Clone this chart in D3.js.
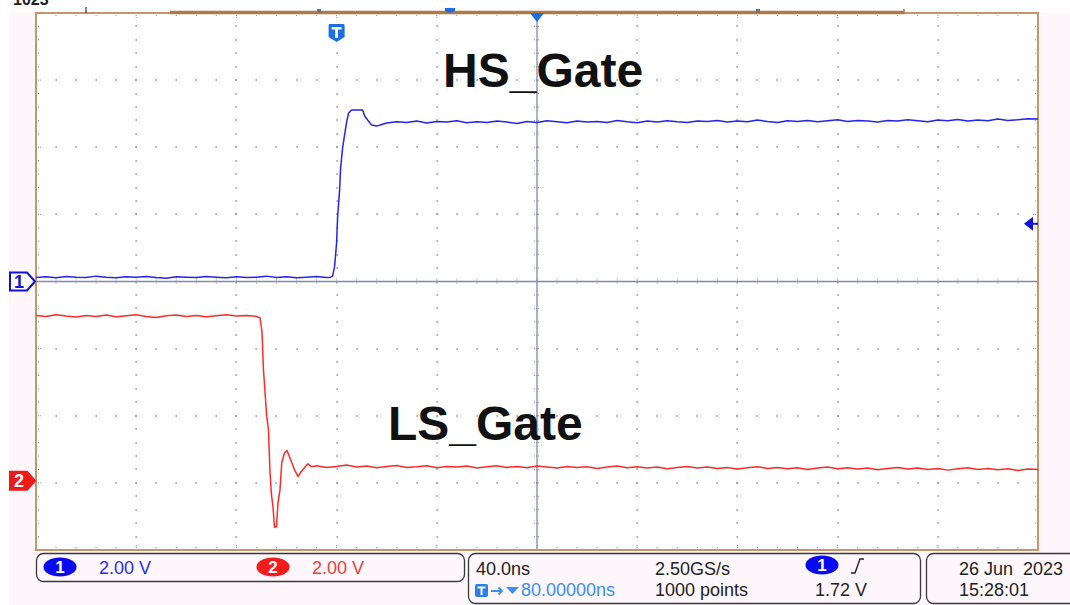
<!DOCTYPE html>
<html>
<head>
<meta charset="utf-8">
<script src="https://cdn.jsdelivr.net/npm/d3@7"></script>
<style>
  body { margin: 0; background: #fff; }
  svg { display: block; }
  text { font-family: "Liberation Sans", Arial, sans-serif; }
</style>
</head>
<body>
<script>
// ---- scope settings ----
var timeWindow = [-120, 280];      // ns, trigger at 0
var voltsPerDiv = 2.0;
var ch1Position = 0;               // divisions
var ch2Position = -2.97;
var triggerLevel = 1.72;           // V on channel 1

// channel 1 (HS_Gate) samples [ns, V]
var ch1Trace = [
  [-120,0.12],[-116,0.14],[-112,0.11],[-108,0.15],[-104,0.13],[-100,0.12],[-96,0.16],[-92,0.13],
  [-88,0.11],[-84,0.14],[-80,0.13],[-76,0.15],[-72,0.12],[-68,0.10],[-64,0.14],[-60,0.13],
  [-56,0.12],[-52,0.15],[-48,0.13],[-44,0.11],[-40,0.14],[-36,0.12],[-32,0.13],[-28,0.16],
  [-24,0.12],[-20,0.14],[-16,0.11],[-12,0.13],[-8,0.15],[-4,0.12],
  [-2.4,0.13],[-1.6,0.16],[-0.8,0.45],[0,1.15],[0.4,1.92],[1.2,2.73],[1.6,3.38],[2.4,3.98],
  [3.2,4.37],[4.0,4.75],[4.8,5.02],[6.0,5.11],[10.4,5.11],[11.2,4.93],[12.4,4.81],[14,4.66],
  [16,4.63],[18,4.68],[20,4.72],
  [24,4.76],[28,4.74],[32,4.78],[36,4.72],[40,4.77],[44,4.75],[48,4.79],[52,4.73],[56,4.76],
  [60,4.74],[64,4.78],[68,4.75],[72,4.71],[76,4.77],[80,4.74],[84,4.79],[88,4.76],[92,4.73],
  [96,4.78],[100,4.75],[104,4.77],[108,4.74],[112,4.80],[116,4.76],[120,4.73],[124,4.78],
  [128,4.75],[132,4.79],[136,4.76],[140,4.74],[144,4.78],[148,4.77],[152,4.80],[156,4.75],
  [160,4.78],[164,4.76],[168,4.81],[172,4.77],[176,4.74],[180,4.79],[184,4.77],[188,4.80],
  [192,4.76],[196,4.79],[200,4.82],[204,4.77],[208,4.80],[212,4.78],[216,4.75],[220,4.80],
  [224,4.78],[228,4.82],[232,4.79],[236,4.76],[240,4.81],[244,4.79],[248,4.83],[252,4.78],
  [256,4.81],[260,4.79],[264,4.84],[268,4.80],[272,4.82],[276,4.85],[280,4.84]
];

// channel 2 (LS_Gate) samples [ns, V]
var ch2Trace = [
  [-120,4.93],[-116,4.90],[-112,4.95],[-108,4.91],[-104,4.88],[-100,4.93],[-96,4.90],[-92,4.94],
  [-88,4.89],[-84,4.92],[-80,4.95],[-76,4.90],[-72,4.87],[-68,4.92],[-64,4.94],[-60,4.90],
  [-56,4.93],[-52,4.89],[-48,4.92],[-44,4.95],[-40,4.91],[-36,4.93],[-32,4.90],
  [-30.6,4.86],[-29.8,4.45],[-29.2,3.31],[-28.5,2.56],[-27.9,1.92],[-27.2,1.52],[-26.6,0.28],
  [-26.0,-0.42],[-25.4,-0.77],[-24.8,-1.38],[-24.0,-1.36],[-23.4,-0.66],[-22.6,-0.27],
  [-21.9,0.54],[-20.8,0.83],[-19.8,0.90],[-18.8,0.72],[-16.8,0.33],[-15.4,0.13],[-14.1,0.28],
  [-11.5,0.51],[-10,0.42],
  [-8,0.45],[-4,0.40],[0,0.43],[4,0.47],[8,0.41],[12,0.44],[16,0.39],[20,0.43],[24,0.46],
  [28,0.40],[32,0.42],[36,0.45],[40,0.39],[44,0.43],[48,0.41],[52,0.44],[56,0.38],[60,0.42],
  [64,0.45],[68,0.40],[72,0.43],[76,0.39],[80,0.44],[84,0.41],[88,0.38],[92,0.43],[96,0.40],
  [100,0.42],[104,0.37],[108,0.41],[112,0.44],[116,0.39],[120,0.42],[124,0.38],[128,0.41],
  [132,0.36],[136,0.40],[140,0.43],[144,0.38],[148,0.41],[152,0.37],[156,0.40],[160,0.35],
  [164,0.39],[168,0.42],[172,0.37],[176,0.40],[180,0.36],[184,0.39],[188,0.34],[192,0.38],
  [196,0.41],[200,0.36],[204,0.39],[208,0.35],[212,0.38],[216,0.33],[220,0.37],[224,0.40],
  [228,0.35],[232,0.38],[236,0.34],[240,0.37],[244,0.32],[248,0.36],[252,0.39],[256,0.34],
  [260,0.37],[264,0.33],[268,0.36],[272,0.31],[276,0.35],[280,0.34]
];

var traceLabels = ["HS_Gate", "LS_Gate"];
var channelScales = ["2.00 V", "2.00 V"];
var timebaseText = ["40.0ns", "80.00000ns", "2.50GS/s", "1000 points", "1.72 V"];
var dateText = ["26 Jun  2023", "15:28:01"];

var W = 1070, H = 605;
var plot = {left: 36, right: 1038, top: 13, bottom: 550};
var divX = 10, divY = 8, minor = 5;

var svg = d3.select("body").append("svg").attr("width", W).attr("height", H);

var x = d3.scaleLinear().domain(timeWindow).range([plot.left, plot.right]);
var yDiv = d3.scaleLinear().domain([-divY / 2, divY / 2]).range([plot.bottom, plot.top]);
function y1(v) { return yDiv(v / voltsPerDiv + ch1Position); }
function y2(v) { return yDiv(v / voltsPerDiv + ch2Position); }

var gridColor = "#8c93b8", borderColor = "#c4976a", blue = "#2424f0", red = "#ff2a2a";

// background
svg.append("rect").attr("x", 9).attr("y", plot.top).attr("width", W - 9).attr("height", H - plot.top)
    .attr("fill", "#fdf6fb");
svg.append("rect").attr("x", plot.left).attr("y", plot.top)
    .attr("width", plot.right - plot.left).attr("height", plot.bottom - plot.top).attr("fill", "#fff");

// record length readout, mostly scrolled off the top of the capture
svg.append("text").attr("x", 13).attr("y", 5).attr("font-size", 16).attr("font-weight", "bold")
    .attr("fill", "#222").text("1023");

var gx = d3.scaleLinear().domain([0, divX]).range([plot.left, plot.right]);
var gy = d3.scaleLinear().domain([0, divY]).range([plot.top, plot.bottom]);
var grid = svg.append("g");

// dotted graticule
var dots = [];
d3.range(1, divX).forEach(function(i) {
    if (i === divX / 2) return;
    d3.range(1, divY * minor).forEach(function(k) { dots.push([gx(i), gy(k / minor)]); });
});
d3.range(1, divY).forEach(function(j) {
    if (j === divY / 2) return;
    d3.range(1, divX * minor).forEach(function(k) { dots.push([gx(k / minor), gy(j)]); });
});
grid.selectAll("rect.dot").data(dots).enter().append("rect")
    .attr("class", "dot")
    .attr("x", function(d) { return Math.round(d[0]) - 0.5; })
    .attr("y", function(d) { return Math.round(d[1]) - 1; })
    .attr("width", 1.2).attr("height", 2)
    .attr("fill", gridColor);

// center cross
grid.append("line").attr("x1", gx(divX / 2)).attr("x2", gx(divX / 2))
    .attr("y1", plot.top).attr("y2", plot.bottom).attr("stroke", "#7f89ad").attr("stroke-width", 1.3);
grid.append("line").attr("y1", gy(divY / 2)).attr("y2", gy(divY / 2))
    .attr("x1", plot.left).attr("x2", plot.right).attr("stroke", "#7f89ad").attr("stroke-width", 1.3);

var ticks = [];
d3.range(1, divX * minor).forEach(function(k) {
    var px = gx(k / minor), len = (k % minor === 0) ? 6 : 3;
    ticks.push([px, plot.top, px, plot.top + len]);
    ticks.push([px, plot.bottom, px, plot.bottom - len]);
    ticks.push([px, gy(divY / 2) - 3, px, gy(divY / 2) + 3]);
});
d3.range(1, divY * minor).forEach(function(k) {
    var py = gy(k / minor), len = (k % minor === 0) ? 6 : 3;
    ticks.push([plot.left, py, plot.left + len, py]);
    ticks.push([plot.right, py, plot.right - len, py]);
    ticks.push([gx(divX / 2) - 3, py, gx(divX / 2) + 3, py]);
});
grid.selectAll("line.tick").data(ticks).enter().append("line")
    .attr("class", "tick")
    .attr("x1", function(d) { return d[0]; }).attr("y1", function(d) { return d[1]; })
    .attr("x2", function(d) { return d[2]; }).attr("y2", function(d) { return d[3]; })
    .attr("stroke", gridColor).attr("stroke-width", 1).attr("stroke-dasharray", "1,1");

// frame
svg.append("rect").attr("x", plot.left).attr("y", plot.top)
    .attr("width", plot.right - plot.left).attr("height", plot.bottom - plot.top)
    .attr("fill", "none").attr("stroke", borderColor).attr("stroke-width", 2);
// record view bar on top
svg.append("line").attr("x1", 170).attr("x2", 904).attr("y1", 12.5).attr("y2", 12.5)
    .attr("stroke", "#b07a48").attr("stroke-width", 3.5);
svg.append("line").attr("x1", 904).attr("x2", 904).attr("y1", 9).attr("y2", 14)
    .attr("stroke", "#b07a48").attr("stroke-width", 1.5);
svg.append("line").attr("x1", 86).attr("x2", 86).attr("y1", 7).attr("y2", 13)
    .attr("stroke", "#333").attr("stroke-width", 1.2);
[319, 758].forEach(function(px) {
    svg.append("rect").attr("x", px - 2).attr("y", 9).attr("width", 4).attr("height", 3.5).attr("fill", "#6a7090");
});
svg.append("path").attr("d", "M445,8 L455,8 L455,11 Q450,14 445,11 Z").attr("fill", "#1b6fe0");

// traces
var line1 = d3.line().x(function(d) { return x(d[0]); }).y(function(d) { return y1(d[1]); });
var line2 = d3.line().x(function(d) { return x(d[0]); }).y(function(d) { return y2(d[1]); });
svg.append("path").datum(ch2Trace).attr("d", line2)
    .attr("fill", "none").attr("stroke", red).attr("stroke-width", 1.5).attr("stroke-linejoin", "round");
svg.append("path").datum(ch1Trace).attr("d", line1)
    .attr("fill", "none").attr("stroke", blue).attr("stroke-width", 1.5).attr("stroke-linejoin", "round");

// labels
svg.append("text").attr("x", 443).attr("y", 87).attr("font-size", 48).attr("font-weight", "bold")
    .attr("fill", "#111").text(traceLabels[0]);
svg.append("text").attr("x", 388).attr("y", 440).attr("font-size", 48).attr("font-weight", "bold")
    .attr("fill", "#111").text(traceLabels[1]);

// markers: trigger position, delay, trigger level
var tx = x(0);
var tMark = svg.append("g").attr("transform", "translate(" + tx + ",24)");
tMark.append("path").attr("d", "M-7,0 L7,0 Q8,0 8,2 L8,13 L0,18 L-8,13 L-8,2 Q-8,0 -7,0 Z").attr("fill", "#1b6fe0");
tMark.append("path").attr("d", "M-5,3 L5,3 L5,5.5 L1.4,5.5 L1.4,14 L-1.4,14 L-1.4,5.5 L-5,5.5 Z").attr("fill", "#fff");

var cx = x(timeWindow[0] + (timeWindow[1] - timeWindow[0]) / 2);
svg.append("path").attr("d", "M" + (cx - 7) + "," + plot.top + " L" + (cx + 7) + "," + plot.top + " L" + cx + "," + (plot.top + 9) + " Z")
    .attr("fill", "#1b6fe0");

var ty = y1(triggerLevel);
svg.append("path").attr("d", "M1024," + ty + " L1033," + (ty - 7) + " L1033," + (ty + 7) + " Z").attr("fill", "#1010e0");
svg.append("line").attr("x1", 1030).attr("x2", 1038).attr("y1", ty).attr("y2", ty).attr("stroke", "#1010e0").attr("stroke-width", 2);

// channel ground markers
function chMarker(yy, label, color, filled) {
    var g = svg.append("g").attr("transform", "translate(0," + yy + ")");
    g.append("path").attr("d", "M10,-9 L27,-9 L35,0 L27,9 L10,9 Z")
        .attr("fill", filled ? color : "#fff").attr("stroke", color).attr("stroke-width", 2);
    g.append("text").attr("x", 19).attr("y", 6.5).attr("text-anchor", "middle")
        .attr("font-size", 18).attr("font-weight", "bold")
        .attr("fill", filled ? "#fff" : color).text(label);
}
chMarker(y1(0), "1", "#1010d8", false);
chMarker(y2(0), "2", "#ee1a1a", true);

// ---- status bar ----
var bar = svg.append("g").attr("font-size", 18);
function box(x0, y0, w, h) {
    bar.append("rect").attr("x", x0).attr("y", y0).attr("width", w).attr("height", h).attr("rx", 7)
        .attr("fill", "none").attr("stroke", "#3a3a3a").attr("stroke-width", 1.3);
}
box(36.5, 553.5, 428, 28);
box(468.5, 553.5, 452, 50);
box(926.5, 553.5, 160, 50);

function pill(cx0, cy0, label, color) {
    bar.append("ellipse").attr("cx", cx0).attr("cy", cy0).attr("rx", 16.5).attr("ry", 9.5).attr("fill", color);
    bar.append("text").attr("x", cx0).attr("y", cy0 + 6).attr("text-anchor", "middle")
        .attr("font-weight", "bold").attr("font-size", 17).attr("fill", "#fff").text(label);
}
pill(60, 567, "1", "#0a0af0");
bar.append("text").attr("x", 99).attr("y", 574).attr("fill", "#2b2bf0").text(channelScales[0]);
pill(273, 567, "2", "#f21c1c");
bar.append("text").attr("x", 312).attr("y", 574).attr("fill", "#f03c3c").text(channelScales[1]);

bar.append("text").attr("x", 476).attr("y", 575).attr("fill", "#222").text(timebaseText[0]);
bar.append("rect").attr("x", 475).attr("y", 584).attr("width", 13).attr("height", 13).attr("rx", 2).attr("fill", "#2a7fe8");
bar.append("path").attr("d", "M477.5,586.5 L485.5,586.5 L485.5,588.5 L482.5,588.5 L482.5,595 L480.5,595 L480.5,588.5 L477.5,588.5 Z").attr("fill", "#fff");
bar.append("path").attr("d", "M491,591 L502,591 M498.5,587.5 L502,591 L498.5,594.5").attr("stroke", "#3a8ff0")
    .attr("stroke-width", 1.8).attr("fill", "none");
bar.append("path").attr("d", "M506,587 L519,587 L512.5,594 Z").attr("fill", "#3a8ff0");
bar.append("text").attr("x", 521).attr("y", 596).attr("fill", "#3a8ff0").text(timebaseText[1]);
bar.append("text").attr("x", 655).attr("y", 575).attr("fill", "#222").text(timebaseText[2]);
bar.append("text").attr("x", 655).attr("y", 596).attr("fill", "#222").text(timebaseText[3]);
pill(822, 565, "1", "#0a0af0");
bar.append("path").attr("d", "M851,573 L855,573 L860,559 L864,559").attr("stroke", "#222")
    .attr("stroke-width", 1.4).attr("fill", "none");
bar.append("text").attr("x", 815).attr("y", 596).attr("fill", "#222").text(timebaseText[4]);

bar.append("text").attr("x", 959).attr("y", 575).attr("fill", "#222")
    .style("white-space", "pre").text(dateText[0]);
bar.append("text").attr("x", 959).attr("y", 596).attr("fill", "#222").text(dateText[1]);
</script>
</body>
</html>
